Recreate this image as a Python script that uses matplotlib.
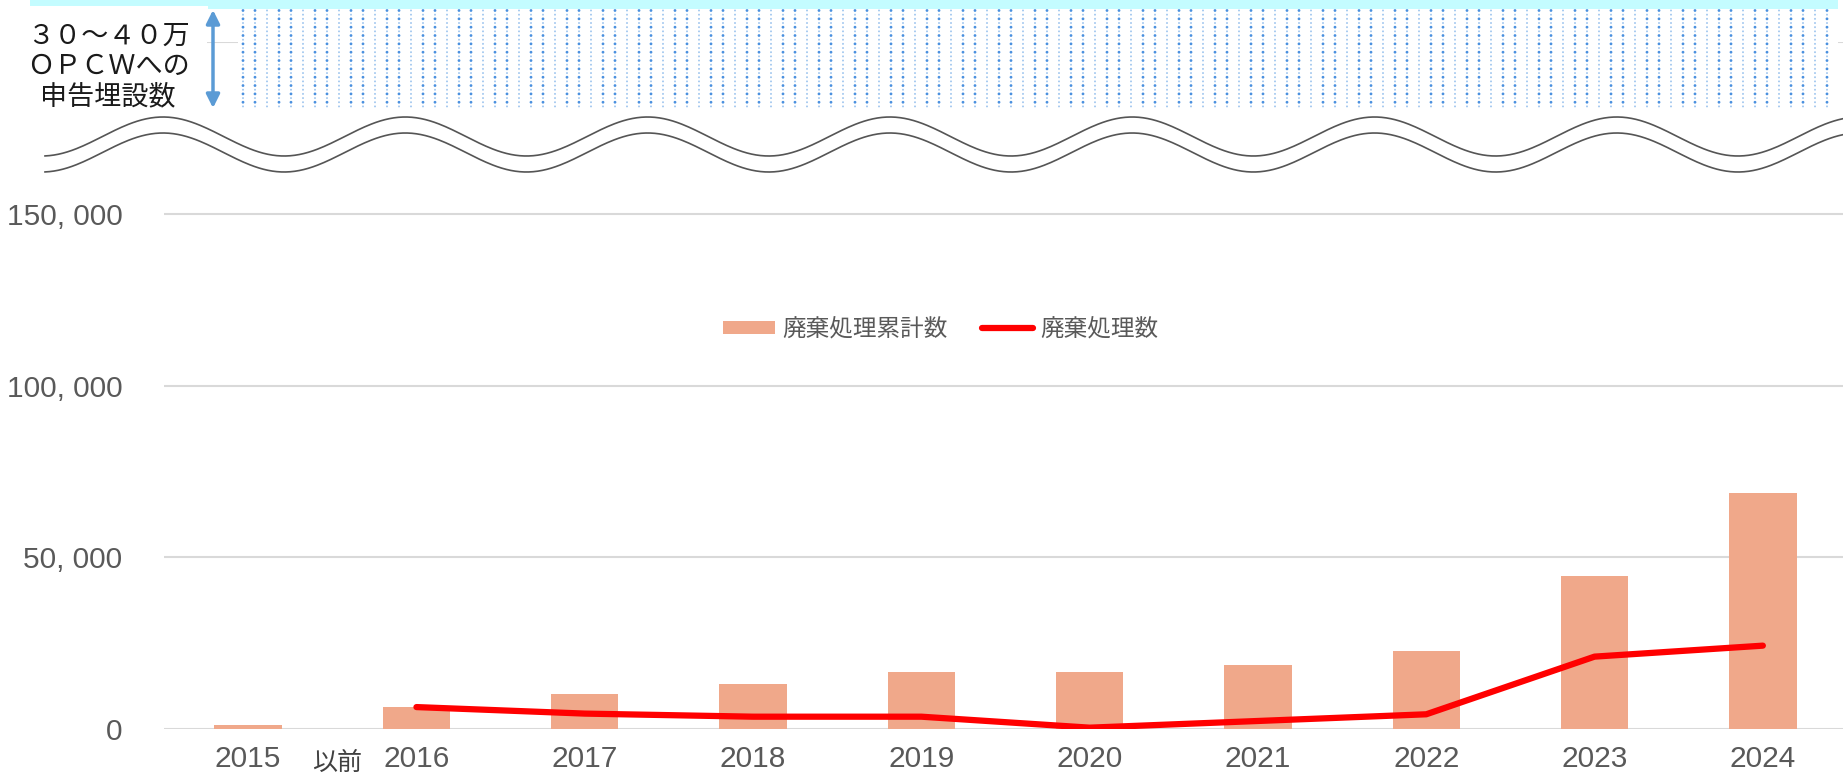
import numpy as np
import matplotlib.pyplot as plt
from matplotlib.patches import Rectangle, FancyArrowPatch

plt.rcParams['font.family'] = ['Noto Sans CJK JP', 'DejaVu Sans']

# data
years = ['2015', '2016', '2017', '2018', '2019', '2020', '2021', '2022', '2023', '2024']
cumulative = [1000, 6200, 10200, 12900, 16400, 16400, 18600, 22600, 44500, 68700]  # 廃棄処理累計数
annual = [6300, 4400, 3500, 3500, 300, 2250, 4200, 21000, 24200]  # 廃棄処理数 (2016-)
yticks = [0, 50000, 100000, 150000, 200000]
ylabels = ['0', '50, 000', '100, 000', '150, 000', '']

W, H = 1843, 776
fig = plt.figure(figsize=(W / 100, H / 100), dpi=100)
num_font = ['Liberation Sans', 'DejaVu Sans']
grey = '#595959'

ax = fig.add_axes([164 / W, 1 - 728.7 / H, (1847 - 164) / W, (728.7 - 42.3) / H])
x = np.arange(len(years))
bars = ax.bar(x, cumulative, width=0.4, color='#F0A88A', label='廃棄処理累計数', zorder=2)
line, = ax.plot(x[1:], annual, color='#ff0000', lw=4.5, solid_capstyle='round',
                solid_joinstyle='round', label='廃棄処理数', zorder=3)
ax.set_xlim(-0.5, 9.5)
ax.set_ylim(0, 200000)
ax.set_xticks(x)
ax.set_xticklabels(years)
ax.set_yticks(yticks)
ax.set_yticklabels(ylabels)
ax.grid(axis='y', color='#d9d9d9', lw=1.5)
ax.set_axisbelow(True)
for s in ax.spines.values():
    s.set_visible(False)
ax.tick_params(length=0, labelcolor=grey, labelsize=21.5)
ax.tick_params(axis='y', pad=30)
ax.tick_params(axis='x', pad=12)
for t in ax.get_xticklabels() + ax.get_yticklabels():
    t.set_fontfamily(num_font)
ax.text(0.527, -0.05, '以前', transform=ax.get_xaxis_transform(), ha='center', va='center',
        fontsize=18, color='#404040')

fig.legend(handles=[bars, line], loc='center', bbox_to_anchor=(940.8 / W, 1 - 329 / H), ncol=2,
           frameon=False, fontsize=17, handlelength=2.2, handleheight=0.47, handletextpad=0.3,
           columnspacing=1.45, labelcolor=grey, borderpad=0)

# overlay in pixel coords: declared amount box + axis break
ov = fig.add_axes([0, 0, 1, 1], zorder=5)
ov.set_xlim(0, W)
ov.set_ylim(H, 0)
ov.axis('off')
ov.patch.set_alpha(0)

ov.add_patch(Rectangle((0, 0), 207, 118, color='white', lw=0))
ov.add_patch(Rectangle((238, 9), 1600, 100, color='white', lw=0))
ov.add_patch(Rectangle((30, 0), 1808, 6, color='#c4fcff', lw=0))
ov.add_patch(Rectangle((208, 0), 1630, 9, color='#c4fcff', lw=0))

gx, gy = np.meshgrid(np.arange(243, 1836, 12), np.arange(10.5, 107, 4.17))
ci = (np.round((gx - 243) / 12) % 3)
ri = (np.round((gy - 10.5) / 4.17) % 2)
strong = (ri == 0) & (ci != 2)
sizes = np.where(strong, 4.0, 2.0)
cols = np.where(strong, '#4a90df', '#a3c8ef')
ov.scatter(gx.ravel(), gy.ravel(), s=sizes.ravel(), c=cols.ravel(), lw=0)

ov.add_patch(FancyArrowPatch((213, 108), (213, 10), arrowstyle='<|-|>', mutation_scale=20,
                             color='#5b9bd5', lw=2.5, shrinkA=0, shrinkB=0))
for yy, txt in [(36.7, '３０～４０万'), (66.7, 'ＯＰＣＷへの'), (96.7, '申告埋設数')]:
    ov.text(108, yy, txt, ha='center', va='center', fontsize=19.5, color='#1a1a1a')

wx = np.linspace(45, W, 800)
wy = 136.5 - 19.5 * np.cos(2 * np.pi * (wx - 163) / 242.3)
ov.plot(wx, wy, color='#555555', lw=1.2)
ov.plot(wx, wy + 16, color='#555555', lw=1.2)

fig.savefig('out.png', dpi=100)
